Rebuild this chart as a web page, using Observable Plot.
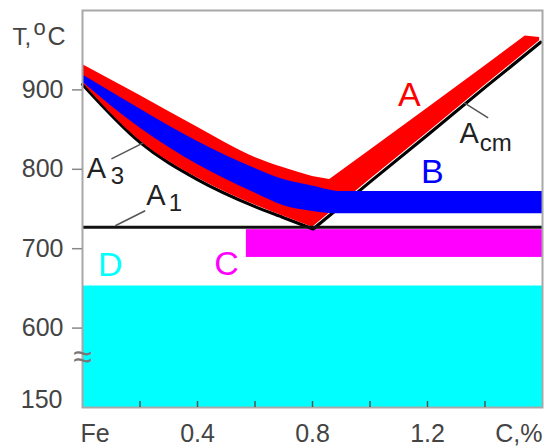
<!DOCTYPE html>
<html><head><meta charset="utf-8">
<script src="https://cdn.jsdelivr.net/npm/d3@7"></script>
<script src="https://cdn.jsdelivr.net/npm/@observablehq/plot@0.6"></script>
<style>body{margin:0;background:#fff}</style>
</head><body><div id="chart"></div>
<script>
// ---- Hypoeutectoid side: A3 line and red band above it ----
const cHypo = [0, 0.2, 0.4, 0.6, 0.7, 0.8];
const a3Temp = [909, 836, 789, 755, 741, 727];
const redTopHypo = [932, 893, 853, 815, 802, 791];
// ---- Hypereutectoid side: Acm line and red band above it ----
const cHyper = [0.8, 0.86, 1.0, 1.2, 1.4, 1.54, 1.59];
const acmTemp = [727, 745, 787, 846, 906, 947, 962];
const redTopHyper = [791, 787, 824, 877, 930, 968, 966];
// ---- Blue band B ----
const cBlue = [0, 0.2, 0.4, 0.6, 0.7, 0.8, 0.9, 1.6];
const blueTop = [919, 876, 835, 801, 787, 779, 772, 772];
const blueBottom = [910, 852, 806, 770, 754, 747, 744, 744];
// ---- A1 line ----
const a1Temp = [727];
const cSpan = [0, 1.6];
// ---- Magenta band C ----
const magentaC = [0.57, 1.6];
const magentaT = [689, 724];
// ---- Cyan band D ----
const cyanT = [500, 653];
// ---- Axes ----
const yTickValues = [600, 700, 800, 900];
const yTickLabels = ["600", "700", "800", "900"];
const yBreakValue = [510];
const yBreakLabel = ["150"];
const yBreakSymbolT = [563];
const xLabelValues = [0, 0.4, 0.8, 1.2, 1.6];
const xLabelTexts = ["Fe", "0.4", "0.8", "1.2", "C,%"];
const xMinorTicks = [0.2, 0.4, 0.6, 0.8, 1.0, 1.2, 1.4];
// ---- Region letters ----
const regionLabels = ["A", "B", "C", "D"];
const regionColors = ["#ff0000", "#0000ff", "#ff00ff", "#00ffff"];
const regionC = [1.137, 1.217, 0.501, 0.097];
const regionT = [894, 797, 680, 679];
// ---- Line labels (A3, A1, Acm) ----
const lineMain = ["A", "A", "A"];
const lineSub = ["3", "1", "cm"];
const lineMainC = [0.015, 0.222, 1.311];
const lineMainT = [800.6, 766.7, 845.3];
const lineSubC = [0.098, 0.300, 1.382];
const lineSubT = [790.6, 757.2, 832.7];
const leaderC1 = [0.1006, 0.114, 1.328];
const leaderT1 = [813.2, 728.9, 883.6];
const leaderC2 = [0.2115, 0.218, 1.411];
const leaderT2 = [833.3, 747.8, 864.8];

const hypo = cHypo.map((c, i) => ({c, lo: a3Temp[i], hi: redTopHypo[i]}));
const hyper = cHyper.map((c, i) => ({c, lo: acmTemp[i], hi: redTopHyper[i]}));
const blue = cBlue.map((c, i) => ({c, lo: blueBottom[i], hi: blueTop[i]}));
const regions = regionLabels.map((t, i) => ({t, c: regionC[i], T: regionT[i], color: regionColors[i]}));
const mains = lineMain.map((t, i) => ({t, c: lineMainC[i], T: lineMainT[i]}));
const subs = lineSub.map((t, i) => ({t, c: lineSubC[i], T: lineSubT[i]}));
const leaders = leaderC1.map((c, i) => ({c1: c, T1: leaderT1[i], c2: leaderC2[i], T2: leaderT2[i]}));

const font = "Liberation Sans, Arial, Helvetica, sans-serif";
const plot = Plot.plot({
  width: 544, height: 448,
  marginLeft: 82, marginRight: 2, marginTop: 10, marginBottom: 41,
  style: {fontFamily: font, fontSize: "25px", color: "#444", background: "#fff"},
  x: {domain: cSpan, axis: null},
  y: {domain: [500, 1000], axis: null},
  marks: [
    Plot.rect([0], {x1: cSpan[0], x2: cSpan[1], y1: cyanT[0], y2: cyanT[1], fill: "#00ffff"}),
    Plot.rect([0], {x1: magentaC[0], x2: magentaC[1], y1: magentaT[0], y2: magentaT[1], fill: "#ff00ff"}),
    Plot.line(hyper, {x: "c", y: "lo", stroke: "#000", strokeWidth: 3.2, dx: 1, dy: 1.5}),
    Plot.line(hypo, {x: "c", y: "lo", stroke: "#000", strokeWidth: 3.2, dy: 1.6, curve: "monotone-x"}),
    Plot.area(hypo, {x1: "c", y1: "lo", y2: "hi", fill: "#ff0000", curve: "monotone-x"}),
    Plot.area(hyper, {x1: "c", y1: "lo", y2: "hi", fill: "#ff0000"}),
    Plot.area(blue, {x1: "c", y1: "lo", y2: "hi", fill: "#0000ff", curve: "monotone-x"}),
    Plot.ruleY(a1Temp, {x1: cSpan[0], x2: cSpan[1], stroke: "#111", strokeWidth: 3}),
    Plot.frame({stroke: "#a8a8a8", strokeWidth: 2}),
    Plot.axisY(yTickValues, {tickSize: 10, tickPadding: 9, stroke: "#888", strokeWidth: 1.5, fill: "#444",
      tickFormat: d => yTickLabels[yTickValues.indexOf(d)], fontSize: 25}),
    Plot.axisY(yBreakValue, {tickSize: 0, tickPadding: 20, fill: "#444",
      tickFormat: d => yBreakLabel[yBreakValue.indexOf(d)], fontSize: 25}),
    Plot.text(yBreakSymbolT, {x: cSpan[0], y: d => d, text: () => "≈", fill: "#777", fontSize: 34}),
    Plot.axisX(xMinorTicks, {tickSize: -6, stroke: "#555", strokeWidth: 1.5, tickFormat: () => ""}),
    Plot.axisX(xLabelValues.slice(1, -1), {tickSize: 0, tickPadding: 17, fill: "#444", fontSize: 25,
      tickFormat: d => xLabelTexts[xLabelValues.indexOf(d)]}),
    Plot.text([xLabelTexts[0]], {x: xLabelValues[0], frameAnchor: "bottom", lineAnchor: "top", dy: 17,
      textAnchor: "start", text: d => d, fill: "#444", fontSize: 25, dx: -2}),
    Plot.text([xLabelTexts[4]], {x: xLabelValues[4], frameAnchor: "bottom", lineAnchor: "top", dy: 17,
      textAnchor: "end", text: d => d, fill: "#444", fontSize: 25}),
    Plot.text(["T,"], {frameAnchor: "top-left", dx: -70, dy: 17, textAnchor: "start", text: d => d, fill: "#444", fontSize: 24}),
    Plot.text(["o"], {frameAnchor: "top-left", dx: -49, dy: 9, textAnchor: "start", text: d => d, fill: "#444", fontSize: 22}),
    Plot.text(["C"], {frameAnchor: "top-left", dx: -35, dy: 17, textAnchor: "start", text: d => d, fill: "#444", fontSize: 25}),
    Plot.link(leaders, {x1: "c1", y1: "T1", x2: "c2", y2: "T2", stroke: "#555", strokeWidth: 1.5}),
    Plot.text(regions, {x: "c", y: "T", text: "t", fill: "color", fontSize: 34}),
    Plot.text(mains, {x: "c", y: "T", text: "t", fill: "#222", fontSize: 29, textAnchor: "start"}),
    Plot.text(subs, {x: "c", y: "T", text: "t", fill: "#222", fontSize: 24, textAnchor: "start"})
  ]
});
document.getElementById("chart").appendChild(plot);
</script>
</body></html>
